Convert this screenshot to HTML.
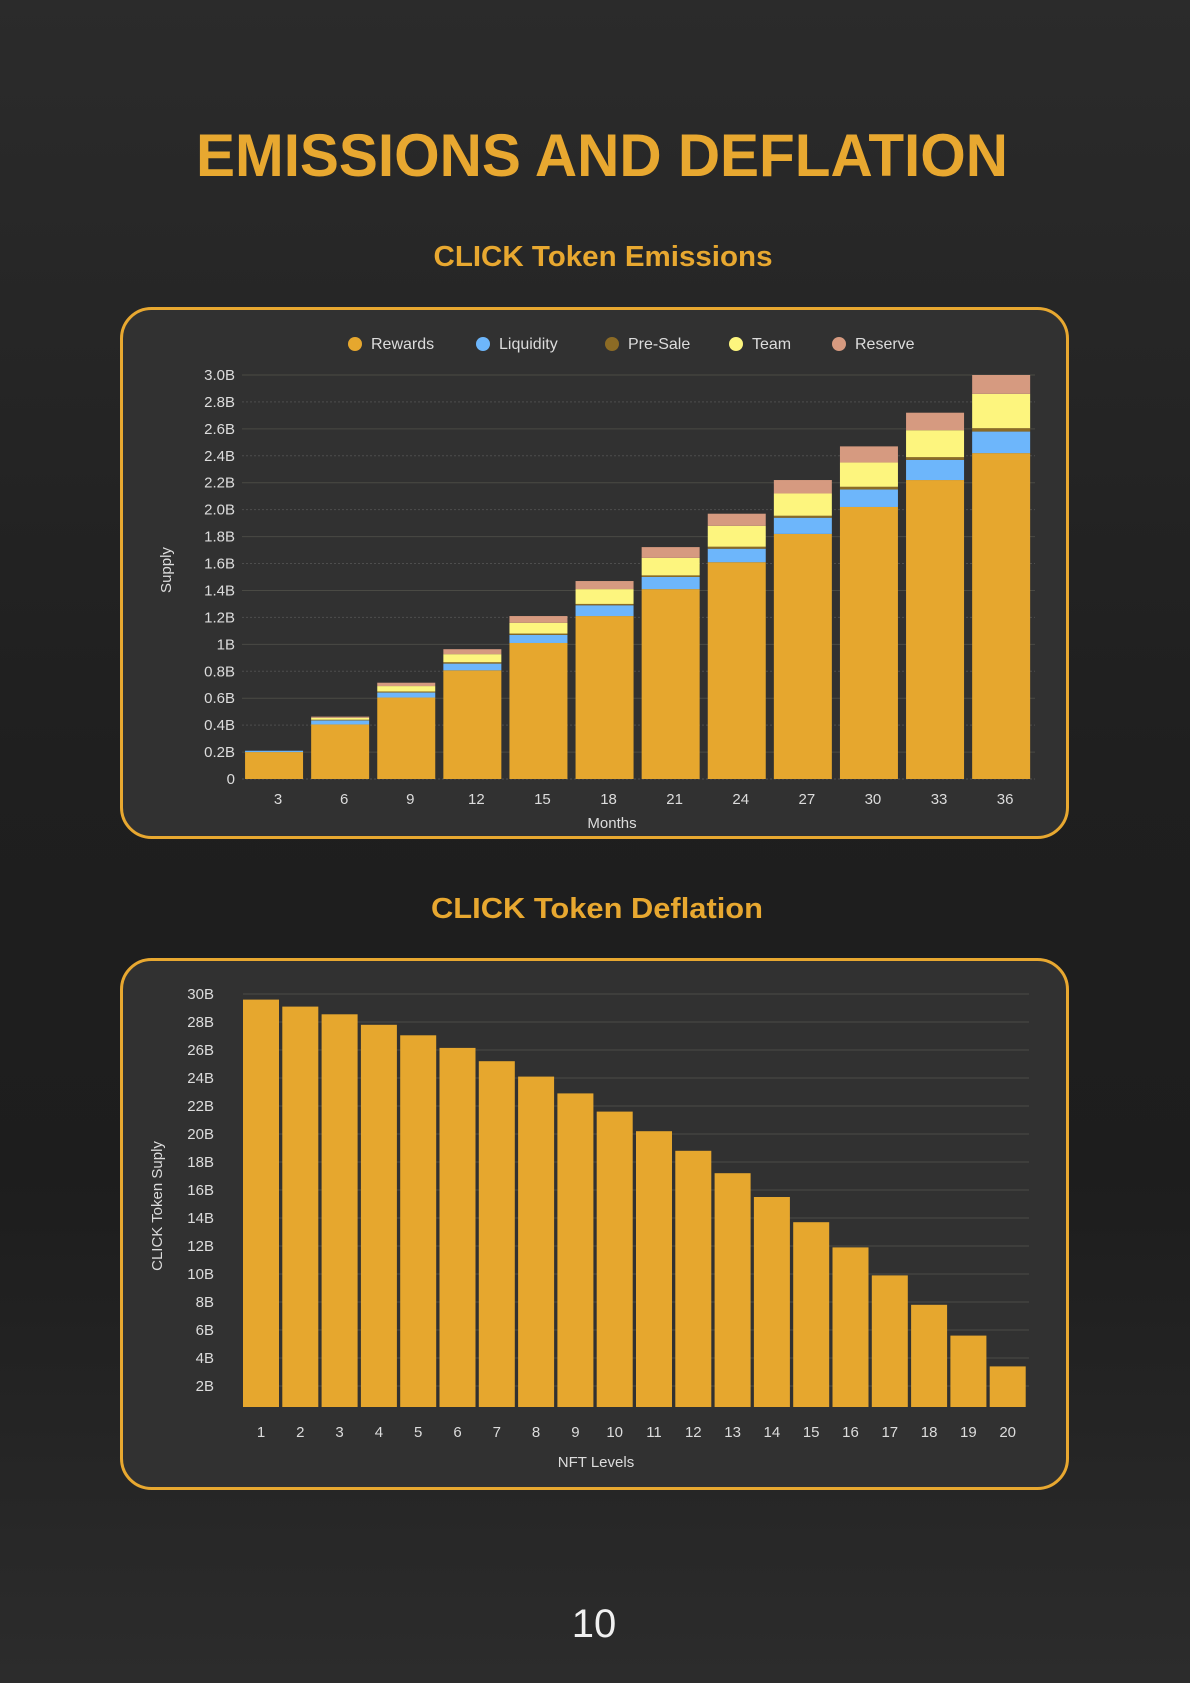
<!DOCTYPE html>
<html><head><meta charset="utf-8"><style>
html,body{margin:0;padding:0;background:#1e1e1e;}
svg{display:block;}
text{font-family:"Liberation Sans",sans-serif;}
</style></head><body>
<svg id="page" width="1190" height="1683" viewBox="0 0 1190 1683" xmlns="http://www.w3.org/2000/svg">
<defs>
<linearGradient id="bg" x1="0" y1="0" x2="0" y2="1">
<stop offset="0" stop-color="#2b2b2b"/><stop offset="0.45" stop-color="#1f1f1f"/><stop offset="0.7" stop-color="#1d1d1d"/><stop offset="1" stop-color="#2c2c2c"/>
</linearGradient>
</defs>
<rect width="1190" height="1683" fill="url(#bg)"/>
<text x="602" y="176" text-anchor="middle" font-size="60" font-weight="bold" fill="#e8a830" textLength="812" lengthAdjust="spacingAndGlyphs">EMISSIONS AND DEFLATION</text>
<text x="603" y="266" text-anchor="middle" font-size="29" font-weight="bold" fill="#e8a830" textLength="339" lengthAdjust="spacingAndGlyphs">CLICK Token Emissions</text>
<rect x="121.5" y="308.5" width="946" height="529" rx="30" fill="#313131" stroke="#e8a830" stroke-width="3"/>
<g id="em"></g>
<text x="597" y="918" text-anchor="middle" font-size="29" font-weight="bold" fill="#e8a830" textLength="332" lengthAdjust="spacingAndGlyphs">CLICK Token Deflation</text>
<rect x="121.5" y="959.5" width="946" height="529" rx="30" fill="#313131" stroke="#e8a830" stroke-width="3"/>
<g id="df"></g>
<text x="594" y="1637" text-anchor="middle" font-size="40" fill="#f0f0f0">10</text>
</svg>
<script>
const emMonths = [3,6,9,12,15,18,21,24,27,30,33,36];
const emRewards = [0.2,0.405,0.605,0.807,1.01,1.21,1.41,1.61,1.82,2.02,2.22,2.42];
const emLiquidity = [0.01,0.03,0.037,0.05,0.06,0.08,0.09,0.1,0.12,0.13,0.15,0.16];
const emPresale = [0,0.005,0.008,0.01,0.01,0.01,0.012,0.015,0.015,0.02,0.02,0.025];
const emTeam = [0,0.015,0.04,0.06,0.08,0.11,0.13,0.155,0.165,0.18,0.2,0.255];
const emReserve = [0,0.008,0.025,0.037,0.05,0.06,0.08,0.09,0.1,0.12,0.13,0.14];
const emTicks = [0,0.2,0.4,0.6,0.8,1,1.2,1.4,1.6,1.8,2.0,2.2,2.4,2.6,2.8,3.0];
const emTickLabels = ["0","0.2B","0.4B","0.6B","0.8B","1B","1.2B","1.4B","1.6B","1.8B","2.0B","2.2B","2.4B","2.6B","2.8B","3.0B"];
const emSeriesNames = ["Rewards","Liquidity","Pre-Sale","Team","Reserve"];

const dfLevels = [1,2,3,4,5,6,7,8,9,10,11,12,13,14,15,16,17,18,19,20];
const dfSupply = [29.6,29.1,28.55,27.8,27.05,26.15,25.2,24.1,22.9,21.6,20.2,18.8,17.2,15.5,13.7,11.9,9.9,7.8,5.6,3.4];
const dfTicks = [2,4,6,8,10,12,14,16,18,20,22,24,26,28,30];
const dfTickLabels = ["2B","4B","6B","8B","10B","12B","14B","16B","18B","20B","22B","24B","26B","28B","30B"];

const NS="http://www.w3.org/2000/svg";
function mk(parent,tag,attrs,txt){const e=document.createElementNS(NS,tag);for(const k in attrs)e.setAttribute(k,attrs[k]);if(txt!==undefined)e.textContent=txt;parent.appendChild(e);return e;}

// Emissions chart
(function(){
  const g=document.getElementById('em');
  const colors=["#e6a72e","#6db6fb","#8c6b25","#fdf57e","#d69a80"];
  const series=[emRewards,emLiquidity,emPresale,emTeam,emReserve];
  const x0=241, band=66.1, bw=58, yBase=779, yTop=375, vMax=3.0;
  const y=v=>yBase-(v/vMax)*(yBase-yTop);
  const xs=i=>x0+i*band+(band-bw)/2;
  emTicks.forEach((t,i)=>{
    const yy=y(t);
    const l=mk(g,'line',{x1:242,x2:1035,y1:yy,y2:yy,stroke:i%2?'#4a4a44':'#4e4e4e','stroke-width':1,'stroke-dasharray':i%2?'':'2,2'});
    
    
    const tx=mk(g,'text',{x:235,y:yy+5,'text-anchor':'end','font-size':15,fill:'#dcdcdc'},emTickLabels[i]);
    
    
  });
  emMonths.forEach((m,i)=>{
    let acc=0;
    series.forEach((s,k)=>{
      const v=s[i]; if(v<=0)return;
      const r=mk(g,'rect',{x:xs(i),width:bw,y:y(acc+v),height:y(acc)-y(acc+v),fill:colors[k]});
      
      
      acc+=v;
    });
    const tx=mk(g,'text',{x:xs(i)+bw/2+4,y:804,'text-anchor':'middle','font-size':15,fill:'#dcdcdc'},String(m));
    
    
  });
  const lx=[355,483,612,736,839];
  emSeriesNames.forEach((n,k)=>{
    const c=mk(g,'circle',{cx:lx[k],cy:344,r:7,fill:colors[k]});
    
    
    const t=mk(g,'text',{x:lx[k]+16,y:349,'font-size':16,fill:'#dcdcdc'},n);
    
    
  });
  const yl=mk(g,'text',{x:0,y:0,transform:'translate(171,570) rotate(-90)','text-anchor':'middle','font-size':15,fill:'#dcdcdc'},'Supply');
  
  
  const xl=mk(g,'text',{x:612,y:828,'text-anchor':'middle','font-size':15,fill:'#dcdcdc'},'Months');
  
  
})();

// Deflation chart
(function(){
  const g=document.getElementById('df');
  const x0=243, band=39.3, bw=36, yBase=1407, vMin=0.5;
  const y=v=>1414-v*14;
  const xs=i=>x0+i*band;
  dfTicks.forEach((t,i)=>{
    const yy=y(t);
    const l=mk(g,'line',{x1:243,x2:1029,y1:yy,y2:yy,stroke:'#4c4c48','stroke-width':1});
    
    
    const tx=mk(g,'text',{x:214,y:yy+5,'text-anchor':'end','font-size':15,fill:'#dcdcdc'},dfTickLabels[i]);
    
    
  });
  dfLevels.forEach((lv,i)=>{
    const r=mk(g,'rect',{x:xs(i),width:bw,y:y(dfSupply[i]),height:yBase-y(dfSupply[i]),fill:'#e6a72e'});
    
    
    const tx=mk(g,'text',{x:xs(i)+bw/2,y:1437,'text-anchor':'middle','font-size':15,fill:'#dcdcdc'},String(lv));
    
    
  });
  const yl=mk(g,'text',{x:0,y:0,transform:'translate(162,1206) rotate(-90)','text-anchor':'middle','font-size':15,fill:'#dcdcdc'},'CLICK Token Suply');
  
  
  const xl=mk(g,'text',{x:596,y:1467,'text-anchor':'middle','font-size':15,fill:'#dcdcdc'},'NFT Levels');
  
  
})();
</script>
</body></html>
